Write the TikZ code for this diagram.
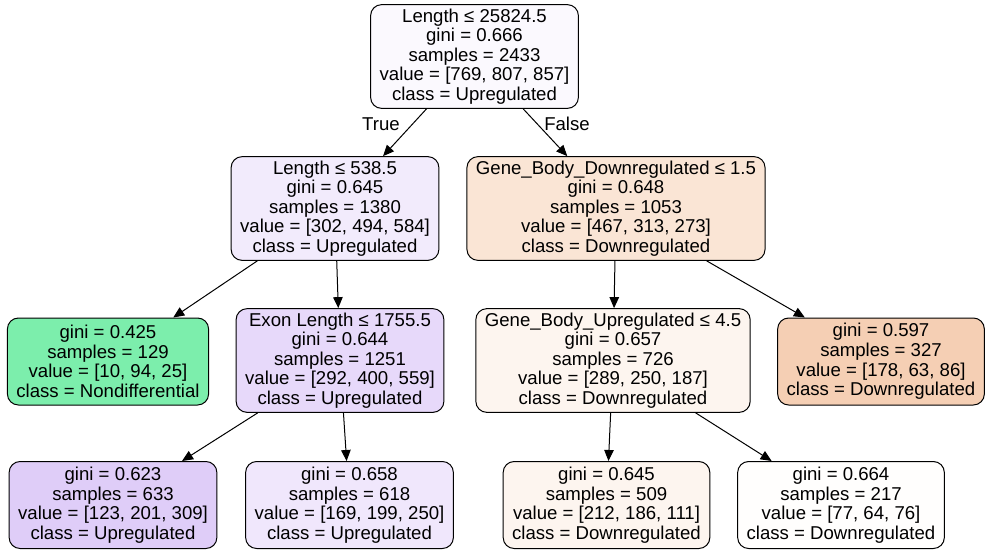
\documentclass[tikz,border=0pt]{standalone}
\usepackage{fontspec}
\setmainfont{Liberation Sans}
\usetikzlibrary{arrows.meta}
\definecolor{downreg}{RGB}{229,129,57}
\definecolor{nondiff}{RGB}{57,229,129}
\definecolor{upreg}{RGB}{129,57,229}
\tikzset{
  treefont/.style={font=\fontsize{18.6}{19.6}\selectfont},
  split/.style={minimum height=103pt},
  leaf/.style={minimum height=87pt}
}
\begin{document}
\begin{tikzpicture}[x=1pt,y=-1pt]
    \useasboundingbox (0,0) rectangle (992,552);
    \begin{scope}[every node/.style={draw,line width=1pt,rounded corners=11pt,align=center,treefont,inner xsep=9pt,inner ysep=4pt}]
      \node[split,fill=upreg!3!white] (root) at (474.5,56.5) {Length ≤ 25824.5\\gini = 0.666\\samples = 2433\\value = [769, 807, 857]\\class = Upregulated};
      \node[split,fill=upreg!10!white] (lenL) at (335,208.5) {Length ≤ 538.5\\gini = 0.645\\samples = 1380\\value = [302, 494, 584]\\class = Upregulated};
      \node[split,fill=downreg!21!white] (gbd) at (616,208.5) {Gene\_Body\_Downregulated ≤ 1.5\\gini = 0.648\\samples = 1053\\value = [467, 313, 273]\\class = Downregulated};
      \node[leaf,fill=nondiff!66!white] (nondif) at (108,361.5) {gini = 0.425\\samples = 129\\value = [10, 94, 25]\\class = Nondifferential};
      \node[split,fill=upreg!19!white] (exon) at (340,360.5) {Exon Length ≤ 1755.5\\gini = 0.644\\samples = 1251\\value = [292, 400, 559]\\class = Upregulated};
      \node[split,fill=downreg!8!white] (gbu) at (613,360.5) {Gene\_Body\_Upregulated ≤ 4.5\\gini = 0.657\\samples = 726\\value = [289, 250, 187]\\class = Downregulated};
      \node[leaf,fill=downreg!38!white] (downC) at (881,361.5) {gini = 0.597\\samples = 327\\value = [178, 63, 86]\\class = Downregulated};
      \node[leaf,fill=upreg!25!white] (upA) at (113,505) {gini = 0.623\\samples = 633\\value = [123, 201, 309]\\class = Upregulated};
      \node[leaf,fill=upreg!12!white] (upB) at (349.5,505) {gini = 0.658\\samples = 618\\value = [169, 199, 250]\\class = Upregulated};
      \node[leaf,fill=downreg!8!white] (downA) at (606.5,505) {gini = 0.645\\samples = 509\\value = [212, 186, 111]\\class = Downregulated};
      \node[leaf,fill=downreg!1!white] (downB) at (841,505) {gini = 0.664\\samples = 217\\value = [77, 64, 76]\\class = Downregulated};
    \end{scope}
    \node[treefont] (truelbl) at (381,124) {True};
    \node[treefont] (falselbl) at (567,124) {False};
    \begin{scope}[every edge/.style={draw=black,line width=1pt,-{Triangle[length=11pt,width=9.5pt]}}]
      \path (root) edge (lenL);
      \path (root) edge (gbd);
      \path (lenL) edge (nondif);
      \path (lenL) edge (exon);
      \path (gbd) edge (gbu);
      \path (gbd) edge (downC);
      \path (exon) edge (upA);
      \path (exon) edge (upB);
      \path (gbu) edge (downA);
      \path (gbu) edge (downB);
    \end{scope}
  \end{tikzpicture}
\end{document}
